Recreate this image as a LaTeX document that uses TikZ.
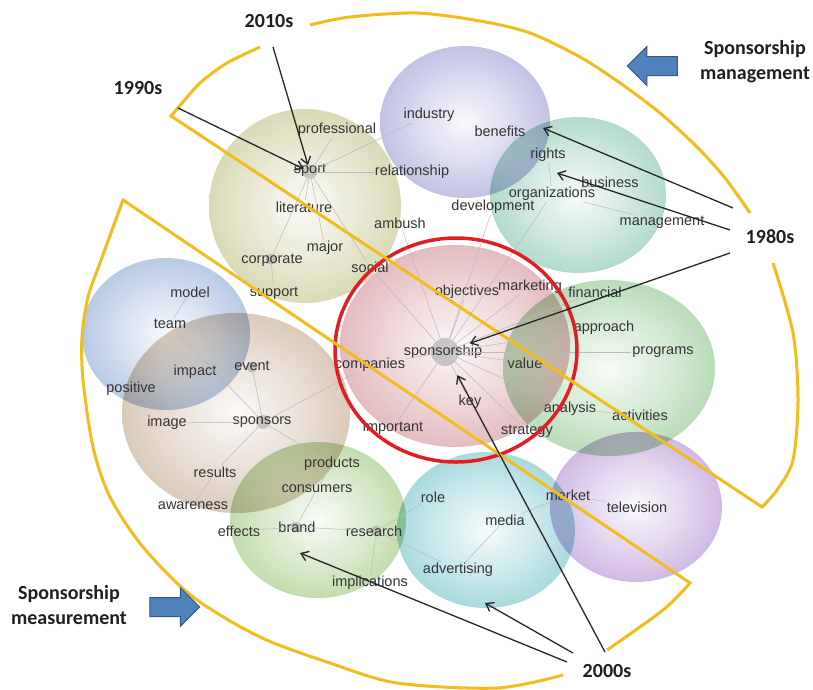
\documentclass[tikz,border=0pt]{standalone}
\usepackage{fontspec}
\setmainfont{Liberation Sans}
\newfontfamily\calibri{Carlito}
\usepackage{xcolor}
\usepackage{tikz}
\usetikzlibrary{arrows.meta,shapes.arrows}
\definecolor{bubolive}{RGB}{178,178,106}
\definecolor{bubindigo}{RGB}{128,128,200}
\definecolor{bubteal}{RGB}{96,180,146}
\definecolor{bubsky}{RGB}{108,146,198}
\definecolor{bubtan}{RGB}{180,146,112}
\definecolor{bubrose}{RGB}{196,116,124}
\definecolor{bubgreen}{RGB}{108,184,108}
\definecolor{bublime}{RGB}{128,184,86}
\definecolor{bubcyan}{RGB}{76,178,186}
\definecolor{bubviolet}{RGB}{158,112,198}
\definecolor{erayellow}{RGB}{242,188,28}
\definecolor{ringred}{RGB}{226,30,36}
\definecolor{blockblue}{RGB}{79,129,189}
\definecolor{blockedge}{RGB}{52,88,136}
\definecolor{wordgray}{RGB}{52,52,52}
\colorlet{bubcol}{gray}
% radial fill, white core to coloured rim
\pgfdeclareradialshading[bubcol]{bubble}{\pgfpointorigin}{%
  color(0bp)=(bubcol!6!white); color(13bp)=(bubcol!30!white);
  color(36bp)=(bubcol!78!white); color(50bp)=(bubcol)}
\tikzset{
  bubblefill/.style = {shading=bubble, fill opacity=0.88, blend mode=multiply},
  word/.style       = {font=\fontsize{14.5}{17}\selectfont, text=wordgray, inner sep=1pt},
  hubdot/.style     = {circle, fill=gray!80, fill opacity=0.5, inner sep=0pt, minimum size=14pt},
  link/.style       = {gray!55, line width=0.5pt},
  redring/.style    = {draw=ringred, line width=3.5pt},
  eraline/.style    = {draw=erayellow, line width=3pt, line join=miter},
  yearlbl/.style    = {font=\calibri\bfseries\fontsize{20}{25}\selectfont, text=black!88, inner sep=2pt},
  themelbl/.style   = {yearlbl, align=center},
  yeararrow/.style  = {-{Straight Barb[length=7pt,width=10pt]}, line width=1.3pt, black!85},
  blockarrow/.style = {single arrow, draw=blockedge, fill=blockblue, line width=1pt,
                       minimum height=50pt, minimum width=38pt,
                       single arrow head extend=10pt, inner xsep=0pt, inner ysep=9pt}
}
\newcommand{\bubble}[4]{% centre, x radius, y radius, colour
  \colorlet{bubcol}{#4}%
  \shade[bubblefill] (#1) ellipse [x radius=#2, y radius=#3];}

\begin{document}
\begin{tikzpicture}[x=1pt, y=-1pt]
  \useasboundingbox (0,0) rectangle (813,689);
  % Clusters
  \bubble{166,334}{84}{76}{bubsky}
  \bubble{236,413}{114}{100}{bubtan}
  \bubble{305,206}{96}{97}{bubolive}
  \bubble{465,122}{85}{76}{bubindigo}
  \bubble{578,195}{88}{78}{bubteal}
  \bubble{609,368}{106}{88}{bubgreen}
  \bubble{455,346}{115}{101}{bubrose}
  \bubble{318,520}{88}{78}{bublime}
  \bubble{486,530}{89}{78}{bubcyan}
  \bubble{636,507}{86}{75}{bubviolet}
  % Hubs
  \node[hubdot] (hubsport)    at (310,172) {};
  \node[hubdot, minimum size=28pt] (hubspons) at (445,352) {};
  \node[hubdot] (hubsponsors) at (263,422) {};
  \node[hubdot, minimum size=11pt] (hubcorp)     at (271,259) {};
  \node[hubdot, minimum size=11pt] (hubevent)    at (252,367) {};
  \node[hubdot, minimum size=11pt] (hubbrand)    at (296,527) {};
  \node[hubdot, minimum size=11pt] (hubresearch) at (376,531) {};
  % Terms: sport cluster
  \node[word] (prof)     at (337,130) {professional};
  \node[word] (sport)    at (310,170) {sport};
  \node[word] (relship)  at (412,172) {relationship};
  \node[word] (litr)     at (304,207) {literature};
  \node[word] (ambush)   at (400,223) {ambush};
  \node[word] (major)    at (325,248) {major};
  \node[word] (corp)     at (272,260) {corporate};
  \node[word] (social)   at (370,267) {social};
  \node[word] (support)  at (274,293) {support};
  % Terms: rights cluster
  \node[word] (industry) at (429,115) {industry};
  \node[word] (benefits) at (500,131) {benefits};
  \node[word] (rights)   at (548,155) {rights};
  \node[word] (business) at (610,182) {business};
  \node[word] (orgs)     at (552,194) {organizations};
  \node[word] (devel)    at (493,207) {development};
  \node[word] (mgmt)     at (662,222) {management};
  % Terms: centre
  \node[word] (objectives) at (467,292) {objectives};
  \node[word] (marketing)  at (530,287) {marketing};
  \node[word] (financial)  at (595,292) {financial};
  \node[word] (spons)      at (443,352) {sponsorship};
  \node[word] (companies)  at (370,365) {companies};
  \node[word] (value)      at (525,363) {value};
  \node[word] (key)        at (470,402) {key};
  \node[word] (important)  at (393,428) {important};
  \node[word] (strategy)   at (527,431) {strategy};
  \node[word] (approach)   at (604,328) {approach};
  \node[word] (programs)   at (663,352) {programs};
  \node[word] (analysis)   at (570,409) {analysis};
  \node[word] (activities) at (640,415) {activities};
  % Terms: sponsors cluster
  \node[word] (model)     at (190,292) {model};
  \node[word] (team)      at (170,324) {team};
  \node[word] (positive)  at (131,389) {positive};
  \node[word] (impact)    at (195,372) {impact};
  \node[word] (event)     at (252,366) {event};
  \node[word] (image)     at (167,423) {image};
  \node[word] (sponsors)  at (262,422) {sponsors};
  \node[word] (results)   at (215,472) {results};
  \node[word] (awareness) at (193,506) {awareness};
  % Terms: brand and media clusters
  \node[word] (products)   at (332,464) {products};
  \node[word] (consumers)  at (317,489) {consumers};
  \node[word] (effects)    at (239,531) {effects};
  \node[word] (brand)      at (297,527) {brand};
  \node[word] (research)   at (374,531) {research};
  \node[word] (implic)     at (370,583) {implications};
  \node[word] (role)       at (433,497) {role};
  \node[word] (media)      at (505,520) {media};
  \node[word] (advert)     at (458,570) {advertising};
  \node[word] (market)     at (568,495) {market};
  \node[word] (television) at (637,507) {television};
  % Links
  \foreach \t in {prof,industry,relship,litr,major,social,hubcorp}
    \draw[link] (hubsport) -- (\t);
  \draw[link] (hubcorp) -- (support);
  \foreach \t in {objectives,marketing,financial,approach,programs,value,analysis,
                  strategy,key,important,companies,social,ambush,orgs,devel}
    \draw[link] (hubspons) -- (\t);
  \foreach \t in {rights,business,mgmt} \draw[link] (orgs) -- (\t);
  \draw[link] (rights) -- (benefits);
  \draw[link] (analysis) -- (activities);
  \draw[link] (model) -- (team);  \draw[link] (team) -- (hubsponsors);
  \draw[link] (impact) -- (event); \draw[link] (impact) -- (positive);
  \foreach \t in {hubevent,image,results,products,companies}
    \draw[link] (hubsponsors) -- (\t);
  \draw[link] (results) -- (awareness);
  \draw[link] (products) -- (consumers); \draw[link] (consumers) -- (hubbrand);
  \draw[link] (hubbrand) -- (effects);   \draw[link] (hubbrand) -- (hubresearch);
  \foreach \t in {implic,role,advert} \draw[link] (hubresearch) -- (\t);
  \draw[link] (media) -- (advert); \draw[link] (media) -- (market);
  \draw[link] (market) -- (television);
  % Core ring
  \draw[redring] (456,350) ellipse [x radius=121, y radius=112];
  % Era bands
  \draw[eraline] plot[smooth] coordinates {(260,47) (227,63) (200,83) (178,108)}
    -- (171,116) -- (762,507)
    -- plot[smooth] coordinates {(762,507) (777,490) (793,460) (798,400) (793,333) (773,263)};
  \draw[eraline] plot[smooth] coordinates {(750,213) (725,178) (697,147) (660,113) (620,83)
    (580,57) (530,33) (480,21) (417,13) (350,17) (310,25)};
  \draw[eraline] plot[smooth] coordinates {(563,675) (497,688) (397,683) (330,663) (260,637)
    (193,597) (143,547) (110,497) (93,447) (83,380) (82,337) (88,297) (100,263) (123,200)}
    -- (690,583)
    -- plot[smooth] coordinates {(690,583) (663,610) (607,650)};
  % Decades
  \node[yearlbl] (y2010) at (269,21)  {2010s};
  \node[yearlbl] (y1990) at (138,88)  {1990s};
  \node[yearlbl] (y1980) at (770,237) {1980s};
  \node[yearlbl] (y2000) at (607,671) {2000s};
  \coordinate (benefitsin) at (543,128);
  \coordinate (rightsin)   at (557,173);
  \coordinate (mediain)    at (485,603);
  \coordinate (brandin)    at (300,553);
  \draw[yeararrow] ([shift={(4,26)}]y2010.center) -- (hubsport);
  \draw[yeararrow] ([shift={(40,20)}]y1990.center) -- (hubsport);
  \draw[yeararrow] ([shift={(-37,-29)}]y1980.center) -- (benefitsin);
  \draw[yeararrow] ([shift={(-40,-7)}]y1980.center) -- (rightsin);
  \draw[yeararrow, shorten >=12pt] ([shift={(-40,16)}]y1980.center) -- (hubspons);
  \draw[yeararrow, shorten >=12pt] ([shift={(-2,-19)}]y2000.center) -- (hubspons);
  \draw[yeararrow] ([shift={(-34,-18)}]y2000.center) -- (mediain);
  \draw[yeararrow] ([shift={(-40,-9)}]y2000.center) -- (brandin);
  % Themes
  \node[themelbl] (mgmtlbl) at (755,62)  {Sponsorship\\management};
  \node[themelbl] (measlbl) at (69,605)  {Sponsorship\\measurement};
  \node[blockarrow, shape border rotate=180] (mgmtarrow) at (657,66) {};
  \node[blockarrow] (measarrow) at (170,607) {};
\end{tikzpicture}
\end{document}
